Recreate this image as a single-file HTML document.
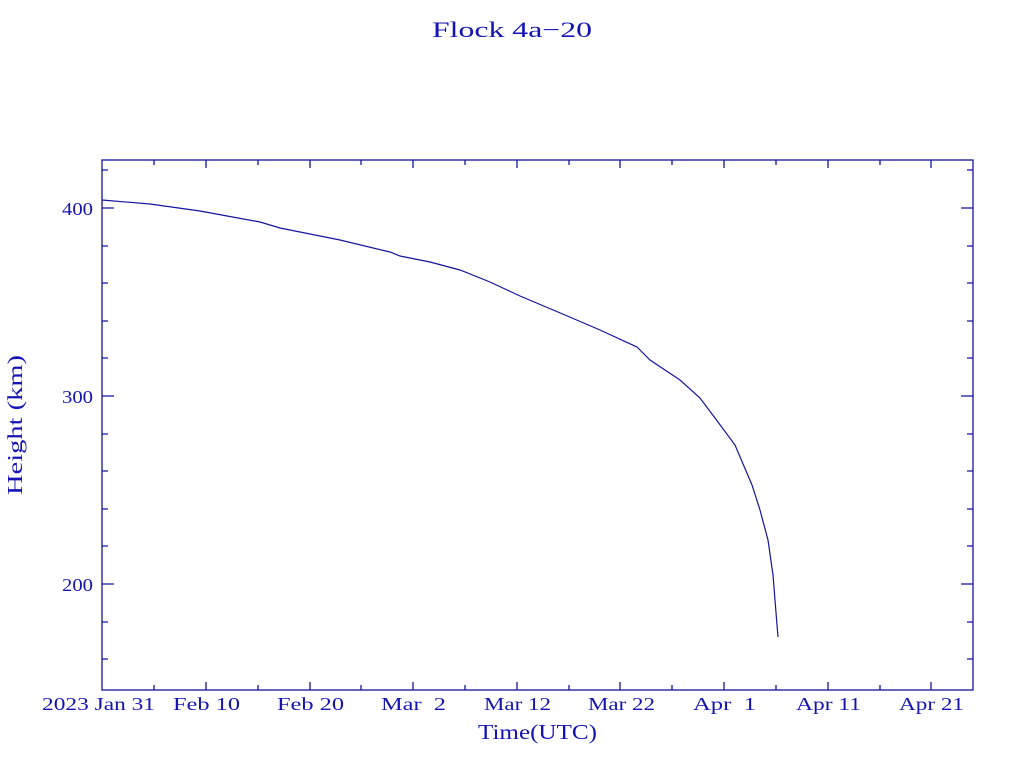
<!DOCTYPE html>
<html><head><style>body{margin:0;background:#fff}svg text{font-family:"Liberation Serif",serif;fill:#1414b4;white-space:pre}</style></head>
<body>
<svg width="1024" height="768" viewBox="0 0 1024 768" xmlns="http://www.w3.org/2000/svg">
<text x="432" y="37" font-size="22" textLength="160" lengthAdjust="spacingAndGlyphs">Flock 4a−20</text>
<g stroke="#14149c" stroke-width="1.3" fill="none">
<rect x="102" y="160" width="871" height="530"/>
<path d="M102,208h12M973,208h-12M102,396h12M973,396h-12M102,584h12M973,584h-12
M102,170h6M973,170h-6M102,246h6M973,246h-6M102,283h6M973,283h-6M102,321h6M973,321h-6M102,358h6M973,358h-6
M102,434h6M973,434h-6M102,471h6M973,471h-6M102,509h6M973,509h-6M102,546h6M973,546h-6M102,622h6M973,622h-6M102,659h6M973,659h-6
M206,690v-8M310,690v-8M413,690v-8M517,690v-8M620,690v-8M724,690v-8M828,690v-8M931,690v-8
M206,160v8M310,160v8M413,160v8M517,160v8M620,160v8M724,160v8M828,160v8M931,160v8
M154,690v-5M258,690v-5M361,690v-5M465,690v-5M569,690v-5M672,690v-5M776,690v-5M880,690v-5
M154,160v5M258,160v5M361,160v5M465,160v5M569,160v5M672,160v5M776,160v5M880,160v5"/>
<path stroke-width="1.2" d="M102,200 L150,204 L200,211 L260,222 L280,228 L340,240 L390,252 L400,256 L430,262 L460,270 L490,282 L520,296 L565,315 L600,330 L637,347 L650,360 L680,380 L700,398 L715,418 L735,445 L752,485 L760,510 L768,540 L773,575 L775,600 L777,625 L778,637"/>
</g>
<g font-size="18">
<text x="62" y="215" textLength="31" lengthAdjust="spacingAndGlyphs">400</text>
<text x="62" y="403" textLength="31" lengthAdjust="spacingAndGlyphs">300</text>
<text x="62" y="591" textLength="31" lengthAdjust="spacingAndGlyphs">200</text>
<text x="42" y="710" textLength="113" lengthAdjust="spacingAndGlyphs">2023 Jan 31</text>
<text x="173" y="710" textLength="67" lengthAdjust="spacingAndGlyphs">Feb 10</text>
<text x="277" y="710" textLength="67" lengthAdjust="spacingAndGlyphs">Feb 20</text>
<text x="381" y="710" textLength="65" lengthAdjust="spacingAndGlyphs">Mar&#160; 2</text>
<text x="484" y="710" textLength="67" lengthAdjust="spacingAndGlyphs">Mar 12</text>
<text x="588" y="710" textLength="67" lengthAdjust="spacingAndGlyphs">Mar 22</text>
<text x="693" y="710" textLength="63" lengthAdjust="spacingAndGlyphs">Apr&#160; 1</text>
<text x="796" y="710" textLength="65" lengthAdjust="spacingAndGlyphs">Apr 11</text>
<text x="899" y="710" textLength="65" lengthAdjust="spacingAndGlyphs">Apr 21</text>
</g>
<text x="478" y="739" font-size="21" textLength="119" lengthAdjust="spacingAndGlyphs">Time(UTC)</text>
<text transform="translate(22,495) rotate(-90)" font-size="21" textLength="140" lengthAdjust="spacingAndGlyphs">Height (km)</text>
</svg>
</body></html>
